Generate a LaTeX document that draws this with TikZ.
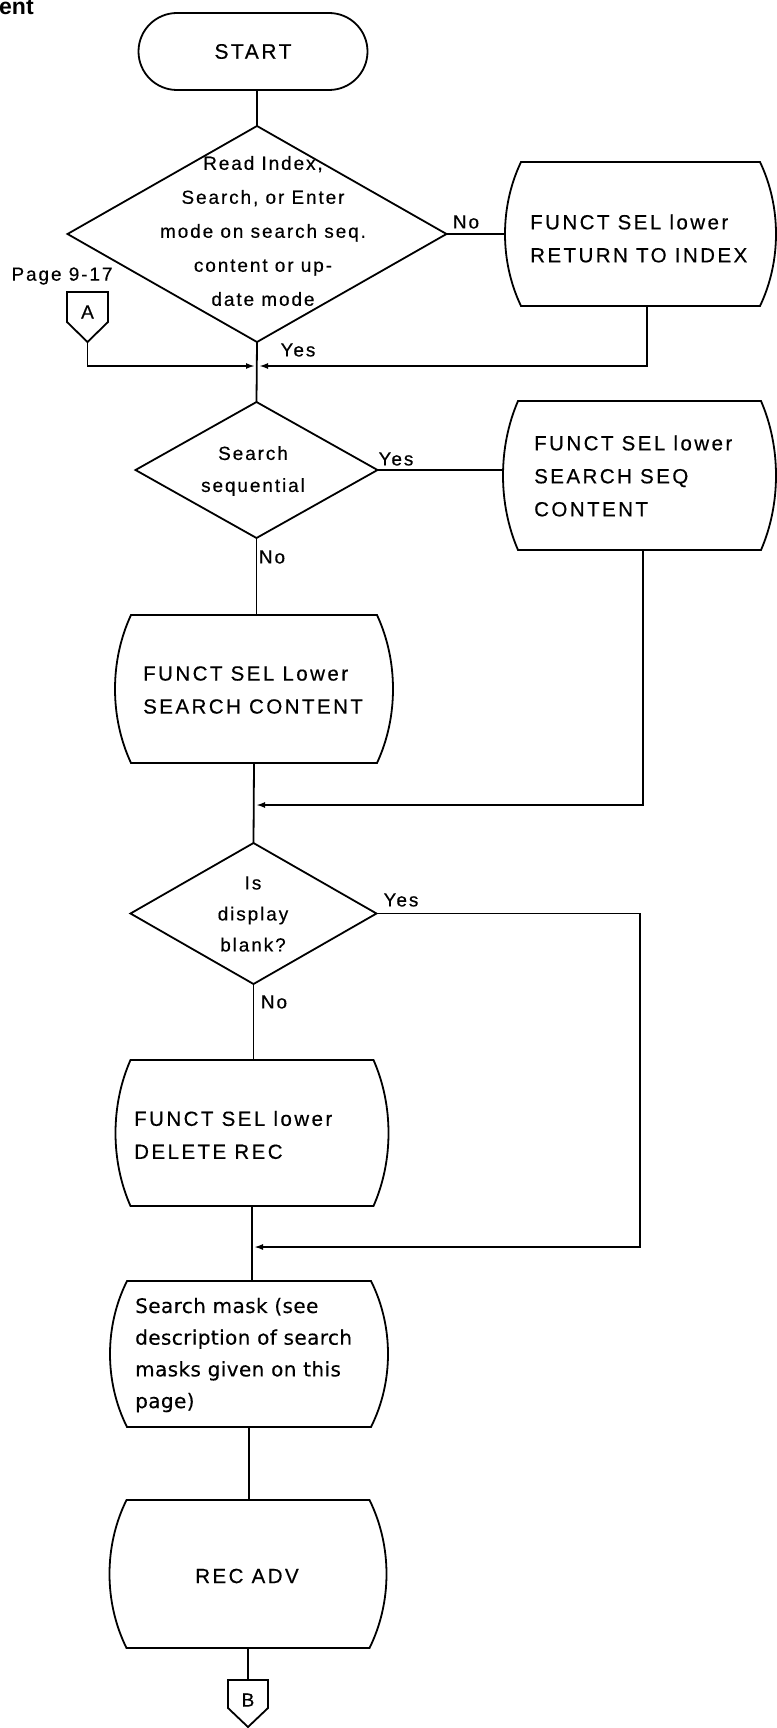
\documentclass[tikz,border=0pt]{standalone}
\usepackage{fontspec}
\setmainfont{Liberation Sans}
\newfontfamily\uf[LetterSpace=10, FakeBold=0.4]{Liberation Sans}
\newfontfamily\ufb[LetterSpace=12, FakeBold=0.4]{Liberation Sans}
\newfontfamily\mf[LetterSpace=2, FakeBold=0.3]{DejaVu Sans}
\usetikzlibrary{shapes.geometric,shapes.misc,arrows.meta,calc}

\tikzset{
  ln/.style={line width=1.8pt, line join=miter},
  arr/.style={ln, -{Latex[length=9pt,width=6pt]}, shorten >=2pt},
  dia/.style={diamond, draw, line width=1.8pt, inner sep=0pt, outer sep=0pt},
  boxn/.style={rectangle, inner sep=0pt, outer sep=0pt},
  lbl/.style={inner sep=0pt, font=\uf\fontsize{19}{22}\selectfont},
  dtxt/.style={inner sep=0pt, align=center, font=\uf\fontsize{19}{32}\selectfont},
  btxt/.style={inner sep=0pt, align=left, anchor=west, font=\ufb\fontsize{20.5}{33}\selectfont},
}

% outline of a display box: name, bulge, height
\newcommand\dispout[3]{%
  \draw[ln] ([xshift=#2pt]#1.north west) -- ([xshift=-#2pt]#1.north east)
    .. controls ([xshift={#2pt/3}, yshift={-0.31*#3pt}]#1.north east) and ([xshift={#2pt/3}, yshift={0.31*#3pt}]#1.south east) .. ([xshift=-#2pt]#1.south east)
    -- ([xshift=#2pt]#1.south west)
    .. controls ([xshift={-#2pt/3}, yshift={0.31*#3pt}]#1.south west) and ([xshift={-#2pt/3}, yshift={-0.31*#3pt}]#1.north west) .. ([xshift=#2pt]#1.north west)
    -- cycle;
}
% off-page connector: name, cx, cy, w, h, shoulder, letter, text shift
\newcommand\offpage[8]{%
  \node[boxn, minimum width=#4pt, minimum height=#5pt] (#1) at (#2,#3) {};
  \draw[ln] (#1.north west) -- (#1.north east) -- ([yshift=#6pt]#1.south east) -- (#1.south) -- ([yshift=#6pt]#1.south west) -- cycle;
  \node[lbl] (#1t) at ([yshift=#8pt]#1.center) {#7};
}

\begin{document}
\begin{tikzpicture}[x=1pt,y=-1pt]
\fill[white] (0,0) rectangle (776,1728);
\useasboundingbox (0,0) rectangle (776,1728);

\node[anchor=base west, inner sep=0pt, font=\bfseries\fontsize{23}{23}\selectfont] (ttl) at (-1,15) {ent};

% START
\node[rounded rectangle, draw, ln, minimum width=229pt, minimum height=77pt, inner sep=0pt, outer sep=0pt,
      font=\ufb\fontsize{21}{21}\selectfont] (start) at (253,51.5) {START};

% decision 1
\node[dia, minimum width=379pt, minimum height=216pt] (d1) at (257,234) {};
\node[dtxt, font=\uf\fontsize{19}{34}\selectfont] (d1t) at (263,231)
  {Read Index,\\Search, or Enter\\mode on search seq.\\content or up-\\date mode};
\draw[ln] (d1.north |- start.south) -- (d1.north);

% page label and connector A
\node[lbl] (pg) at (62,276) {Page 9-17};
\offpage{ca}{87.5}{317}{41}{50}{20}{A}{5}

% RETURN box
\node[boxn, minimum width=271pt, minimum height=144pt] (ret) at (640.5,234) {};
\dispout{ret}{16}{144}
\node[btxt] (rett) at (530,238.5) {FUNCT SEL lower\\RETURN TO INDEX};
\draw[ln] (d1.east) -- (ret.west);
\node[lbl] (no1) at (466,222) {No};

% junction 1
\coordinate (j1) at (257,366);
\draw[arr] (ca.south) |- (j1);
\draw[arr] ([xshift=6.5pt]ret.south) |- (j1);
\node[lbl] (yes1) at (298,350) {Yes};

% decision 2
\node[dia, minimum width=242pt, minimum height=136pt] (d2) at (256.5,470) {};
\node[dtxt] (d2t) at (253,471) {Search\\sequential};
\draw[ln] (d1.south) -- (d2.north);
\node[lbl] (yes2) at (396,459) {Yes};
\node[lbl] (no2) at (272,557) {No};

% SEARCH SEQ box
\node[boxn, minimum width=273pt, minimum height=149pt] (seq) at (639.5,475.5) {};
\dispout{seq}{15}{149}
\node[btxt] (seqt) at (534,476) {FUNCT SEL lower\\SEARCH SEQ\\CONTENT};
\draw[ln] (d2.east) -- (d2.east -| seq.west);

% SEARCH CONTENT box
\node[boxn, minimum width=278pt, minimum height=148pt] (sc) at (254,689) {};
\dispout{sc}{16}{148}
\node[btxt] (sct) at (143,690) {FUNCT SEL Lower\\SEARCH CONTENT};
\draw[ln] (d2.south) -- (d2.south |- sc.north);

% junction 2
\coordinate (j2) at (254,805);
\draw[arr] ([xshift=3.5pt]seq.south) |- (j2);

% decision 3
\node[dia, minimum width=246pt, minimum height=141pt] (d3) at (253.5,913.5) {};
\node[dtxt, font=\uf\fontsize{19}{31}\selectfont] (d3t) at (253,914) {Is\\display\\blank?};
\draw[ln] (sc.south) -- (d3.north);
\node[lbl] (yes3) at (401,900) {Yes};
\node[lbl] (no3) at (274,1002) {No};

% DELETE box
\node[boxn, minimum width=273pt, minimum height=146pt] (del) at (252,1133) {};
\dispout{del}{15}{146}
\node[btxt] (delt) at (134,1135) {FUNCT SEL lower\\DELETE REC};
\draw[ln] (d3.south) -- (d3.south |- del.north);

% junction 3
\coordinate (c3) at (640,913.5);
\coordinate (j3) at (252,1247);
\draw[arr] (d3.east) -- (c3) |- (j3);

% search mask box
\node[boxn, minimum width=278pt, minimum height=146pt] (mask) at (249,1354) {};
\dispout{mask}{17}{146}
\node[btxt, font=\mf\fontsize{20}{31.7}\selectfont] (maskt) at (135,1355)
  {Search mask (see\\description of search\\masks given on this\\page)};
\draw[ln] (del.south) -- (del.south |- mask.north);

% REC ADV box
\node[boxn, minimum width=277pt, minimum height=148pt] (rec) at (248,1574) {};
\dispout{rec}{17}{148}
\node[lbl, font=\ufb\fontsize{20.5}{20.5}\selectfont] (rect) at (247,1576) {REC ADV};
\draw[ln] (mask.south) -- (mask.south |- rec.north);

% connector B
\offpage{cb}{248}{1703.5}{40}{47}{19}{B}{3.5}
\draw[ln] (rec.south) -- (rec.south |- cb.north);
\end{tikzpicture}
\end{document}
